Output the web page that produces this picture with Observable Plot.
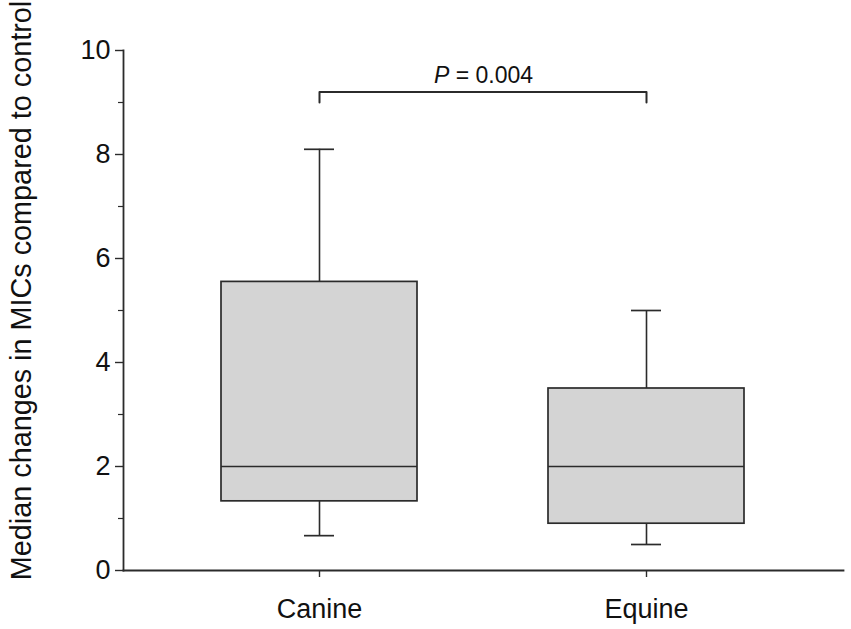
<!DOCTYPE html>
<html>
<head>
<meta charset="utf-8">
<script src="https://cdn.jsdelivr.net/npm/d3@7"></script>
<script src="https://cdn.jsdelivr.net/npm/@observablehq/plot@0.6"></script>
<style>
  html, body { margin: 0; padding: 0; background: #fff; }
  #chart { width: 851px; height: 629px; }
</style>
</head>
<body>
<div id="chart"></div>
<script>
// ---- data ----
const categories = ["Canine", "Equine"];
const whiskerLow = [0.67, 0.5];
const q1 = [1.33, 0.9];
const median = [2, 2];
const q3 = [5.55, 3.5];
const whiskerHigh = [8.1, 5.0];

const yTicks = [0, 2, 4, 6, 8, 10];
const yMinorTicks = [1, 3, 5, 7, 9];
const yLabel = "Median changes in MICs compared to control";

const bracketGroups = ["Canine", "Equine"];
const bracketLevel = 9.2;
const bracketDrop = 9.0;
const pSymbol = "P";
const pRest = " = 0.004";
const pLevel = 9.5;

// ---- tables built from the arrays ----
const rows = categories.map((c, i) => ({
  group: c, lo: whiskerLow[i], q1: q1[i], med: median[i], q3: q3[i], hi: whiskerHigh[i]
}));
const bracketPts = [
  {x: bracketGroups[0], y: bracketDrop},
  {x: bracketGroups[0], y: bracketLevel},
  {x: bracketGroups[1], y: bracketLevel},
  {x: bracketGroups[1], y: bracketDrop}
];

const ink = "#2b2b2b";

const chart = Plot.plot({
  width: 851,
  height: 629,
  marginLeft: 123,
  marginRight: 8,
  marginTop: 50,
  marginBottom: 59,
  style: {fontFamily: "'Liberation Sans', Arial, sans-serif", fontSize: "27px", color: "#111", background: "#fff"},
  x: {domain: categories, paddingInner: 0.4, paddingOuter: 0.3, label: null},
  y: {domain: [0, 10], label: null},
  marks: [
    Plot.frame({anchor: "left", stroke: ink, strokeWidth: 1.8}),
    Plot.frame({anchor: "bottom", stroke: ink, strokeWidth: 1.8}),
    Plot.axisY({ticks: yTicks, tickSize: 8, tickPadding: 5, fontSize: 27, label: null, stroke: ink, strokeWidth: 1.4}),
    Plot.axisY({ticks: yMinorTicks, tickSize: 5, tickFormat: () => "", label: null, stroke: ink, strokeWidth: 1.2}),
    Plot.axisX({tickSize: 7, tickPadding: 21, fontSize: 27, label: null, stroke: ink, strokeWidth: 1.4}),
    Plot.ruleX(rows, {x: "group", y1: "lo", y2: "q1", stroke: ink, strokeWidth: 1.6}),
    Plot.ruleX(rows, {x: "group", y1: "q3", y2: "hi", stroke: ink, strokeWidth: 1.6}),
    Plot.tickY(rows, {x: "group", y: "lo", insetLeft: 83, insetRight: 83, stroke: ink, strokeWidth: 1.7}),
    Plot.tickY(rows, {x: "group", y: "hi", insetLeft: 83, insetRight: 83, stroke: ink, strokeWidth: 1.7}),
    Plot.barY(rows, {x: "group", y1: "q1", y2: "q3", fill: "#d4d4d4", stroke: ink, strokeWidth: 1.7}),
    Plot.tickY(rows, {x: "group", y: "med", stroke: ink, strokeWidth: 1.7}),
    Plot.line(bracketPts, {x: "x", y: "y", stroke: ink, strokeWidth: 2}),
    Plot.text([pSymbol + pRest], {y: () => pLevel, text: d => d, fontSize: 23, fill: "#111", lineAnchor: "bottom", dy: 6}),
    Plot.text([yLabel], {frameAnchor: "left", textAnchor: "middle", rotate: -90, dx: -102, dy: -20, fontSize: 28.8, fill: "#111", text: d => d})
  ]
});

// italicise the P in the p-value annotation
d3.select(chart).selectAll("text").each(function () {
  if (this.textContent === pSymbol + pRest) {
    const t = d3.select(this);
    t.text(null);
    t.append("tspan").attr("font-style", "italic").text(pSymbol);
    t.append("tspan").text(pRest);
  }
});

document.getElementById("chart").appendChild(chart);
</script>
</body>
</html>
